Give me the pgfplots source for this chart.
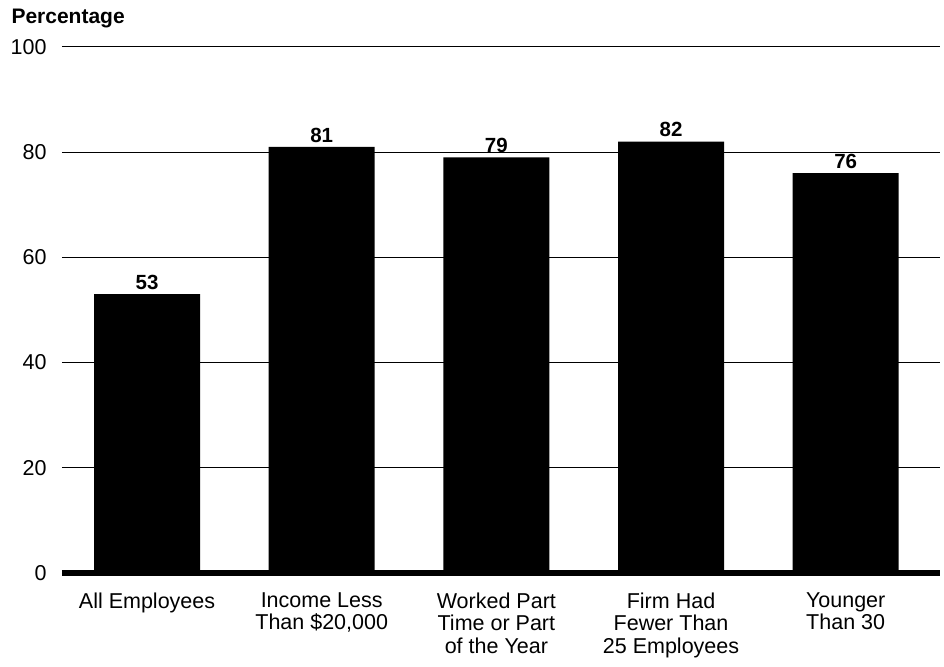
\documentclass[border=0pt]{standalone}
\usepackage{pgfplots}
\pgfplotsset{compat=1.18}
\usepackage{fontspec}
\setmainfont{Liberation Sans}
\begin{document}
\begin{tikzpicture}[x=1pt,y=1pt]
\useasboundingbox (0,0) rectangle (944,666);
\begin{axis}[
  at={(62pt,93pt)}, anchor=south west,
  scale only axis, width=878pt, height=526pt,
  xmin=-0.487, xmax=4.54, ymin=0, ymax=100,
  axis line style={draw=none},
  ybar, bar width=106pt,
  xtick=data,
  xticklabels={All Employees, Income Less\\Than \$20{,}000, Worked Part\\Time or Part\\of the Year, Firm Had\\Fewer Than\\25 Employees, Younger\\Than 30},
  x tick label style={align=center, font=\fontsize{21.5}{22.5}\selectfont, anchor=north, yshift=-16pt},
  ytick={0,20,40,60,80,100},
  yticklabel={\fontsize{21.5}{22}\selectfont\pgfmathprintnumber[assume math mode=true]{\tick}},
  yticklabel style={xshift=-12pt},
  major tick length=0pt,
  tick style={draw=none},
  ymajorgrids, grid style={black, line width=1pt},
  extra y ticks={0}, extra y tick labels={},
  extra y tick style={grid style={black, line width=6pt}},
  nodes near coords,
  every node near coord/.append style={font=\bfseries\fontsize{20.5}{22}\selectfont, black, yshift=1pt},
  /pgf/number format/assume math mode=true,
  clip=false,
]
\addplot[fill=black, draw=none] coordinates {(0,53) (1,81) (2,79) (3,82) (4,76)};
\end{axis}
\node[anchor=west, font=\bfseries\fontsize{21}{22}\selectfont] at (8,647) {Percentage};
\end{tikzpicture}
\end{document}
